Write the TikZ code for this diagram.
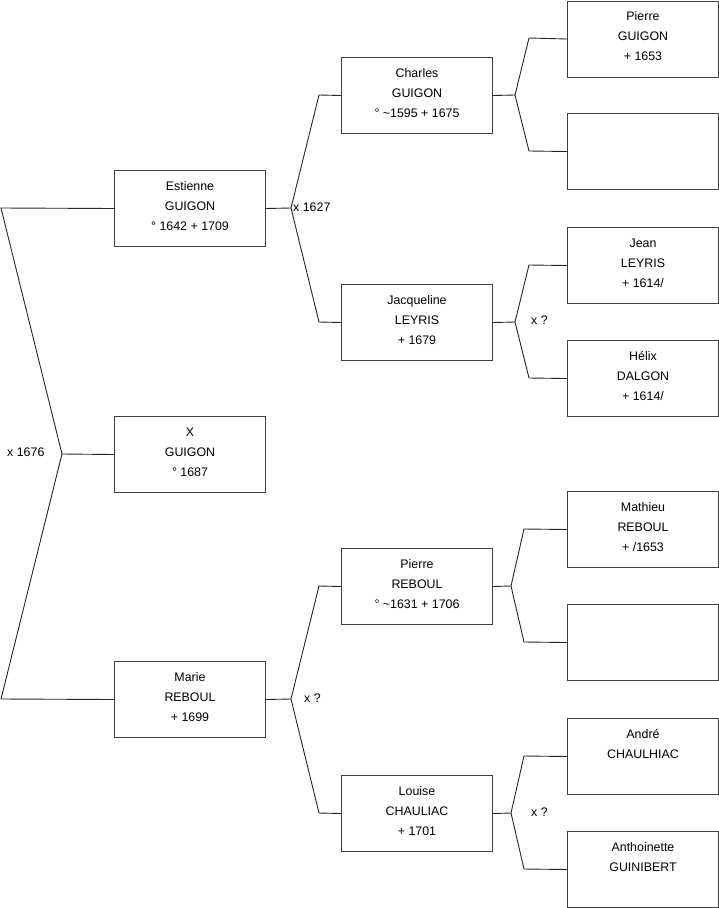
\documentclass[tikz,border=0pt]{standalone}
\usepackage{fontspec}
\setmainfont{Liberation Sans}
\begin{document}
\begin{tikzpicture}[x=1pt,y=-1pt,
  pbox/.style={draw=black!75, line width=1pt, minimum width=151pt, minimum height=76pt, inner sep=0pt, anchor=north west},
  ptext/.style={anchor=north, inner sep=0pt, align=center, font=\fontsize{12.4}{20}\selectfont, yshift=-6pt},
  link/.style={draw=black!85, line width=0.9pt},
  mlabel/.style={anchor=west, inner sep=0pt, font=\fontsize{12.4}{14}\selectfont}]
\useasboundingbox (0,0) rectangle (719,908);
\newcommand{\pers}[4]{%
  \node[pbox] (#1) at (#2,#3) {};
  \node[ptext] (#1t) at (#1.north) {\strut #4};}
% generation 1
\pers{est}{114}{170}{Estienne\\GUIGON\\° 1642 + 1709}
\pers{xg}{114}{416}{X\\GUIGON\\° 1687}
\pers{mar}{114}{661}{Marie\\REBOUL\\+ 1699}
% generation 2
\pers{cha}{341}{57}{Charles\\GUIGON\\° \textasciitilde 1595 + 1675}
\pers{jac}{341}{284}{Jacqueline\\LEYRIS\\+ 1679}
\pers{pie}{341}{548}{Pierre\\REBOUL\\° \textasciitilde 1631 + 1706}
\pers{lou}{341}{775}{Louise\\CHAULIAC\\+ 1701}
% generation 3
\pers{pg}{567}{0.5}{Pierre\\GUIGON\\+ 1653}
\node[pbox] (e1) at (567,113) {};
\pers{jea}{567}{227}{Jean\\LEYRIS\\+ 1614/}
\pers{hel}{567}{340}{Hélix\\DALGON\\+ 1614/}
\pers{mat}{567}{491}{Mathieu\\REBOUL\\+ /1653}
\node[pbox] (e2) at (567,604) {};
\pers{and}{567}{718}{André\\CHAULHIAC}
\pers{ant}{567}{831}{Anthoinette\\GUINIBERT}
% coordinates of the forks
\coordinate (v0) at (62,454);
\coordinate (c0a) at (1,208);
\coordinate (c0b) at (1,699);
\coordinate (v1) at (291,208);
\coordinate (c1a) at (319,95);
\coordinate (c1b) at (319,322);
\coordinate (v2) at (291,699);
\coordinate (c2a) at (319,586);
\coordinate (c2b) at (319,813);
\coordinate (v3) at (515,95);
\coordinate (c3a) at (529,38);
\coordinate (c3b) at (529,151);
\coordinate (v4) at (515,322);
\coordinate (c4a) at (529,265);
\coordinate (c4b) at (529,378);
\coordinate (v5) at (511,586);
\coordinate (c5a) at (524,529);
\coordinate (c5b) at (524,642);
\coordinate (v6) at (511,813);
\coordinate (c6a) at (524,756);
\coordinate (c6b) at (524,869);
% connectors
\draw[link] (est.west) -- (c0a) -- (v0) -- (c0b) -- (mar.west);
\draw[link] (v0) -- (xg.west);
\draw[link] (est.east) -- (v1);
\draw[link] (cha.west) -- (c1a) -- (v1) -- (c1b) -- (jac.west);
\draw[link] (mar.east) -- (v2);
\draw[link] (pie.west) -- (c2a) -- (v2) -- (c2b) -- (lou.west);
\draw[link] (cha.east) -- (v3);
\draw[link] (pg.west) -- (c3a) -- (v3) -- (c3b) -- (e1.west);
\draw[link] (jac.east) -- (v4);
\draw[link] (jea.west) -- (c4a) -- (v4) -- (c4b) -- (hel.west);
\draw[link] (pie.east) -- (v5);
\draw[link] (mat.west) -- (c5a) -- (v5) -- (c5b) -- (e2.west);
\draw[link] (lou.east) -- (v6);
\draw[link] (and.west) -- (c6a) -- (v6) -- (c6b) -- (ant.west);
% marriage labels
\node[mlabel] (m0) at (7,452) {x 1676};
\node[mlabel] (m1) at (293,207) {x 1627};
\node[mlabel] (m2) at (304,698) {x ?};
\node[mlabel] (m4) at (531,320) {x ?};
\node[mlabel] (m6) at (531,812) {x ?};
\end{tikzpicture}
\end{document}
